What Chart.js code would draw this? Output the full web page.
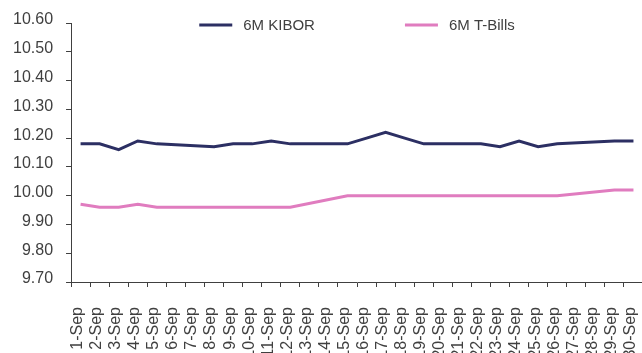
<!DOCTYPE html>
<html>
<head>
<meta charset="utf-8">
<script src="https://cdn.jsdelivr.net/npm/chart.js@4/dist/chart.umd.min.js"></script>
<style>
  html, body { margin: 0; padding: 0; overflow: hidden; background: #fff; }
  #wrap { position: absolute; left: 0; top: 0; width: 646px; height: 353px; }
</style>
</head>
<body>
<div id="wrap"><canvas id="c"></canvas></div>
<script>
// September daily rates (weekends left empty, lines bridge the gaps)
const days = [
  '1-Sep','2-Sep','3-Sep','4-Sep','5-Sep','6-Sep','7-Sep','8-Sep','9-Sep','10-Sep',
  '11-Sep','12-Sep','13-Sep','14-Sep','15-Sep','16-Sep','17-Sep','18-Sep','19-Sep','20-Sep',
  '21-Sep','22-Sep','23-Sep','24-Sep','25-Sep','26-Sep','27-Sep','28-Sep','29-Sep','30-Sep'
];
const kibor6m = [
  10.18, 10.18, 10.16, 10.19, 10.18, null, null, 10.17, 10.18, 10.18,
  10.19, 10.18, null, null, 10.18, 10.20, 10.22, 10.20, 10.18, null,
  null, 10.18, 10.17, 10.19, 10.17, 10.18, null, null, 10.19, 10.19
];
const tbills6m = [
  9.97, 9.96, 9.96, 9.97, 9.96, null, null, 9.96, 9.96, 9.96,
  9.96, 9.96, null, null, 10.00, 10.00, 10.00, 10.00, 10.00, null,
  null, 10.00, 10.00, 10.00, 10.00, 10.00, null, null, 10.02, 10.02
];
const seriesNames = ['6M KIBOR', '6M T-Bills'];
const yTicks = [9.70, 9.80, 9.90, 10.00, 10.10, 10.20, 10.30, 10.40, 10.50, 10.60];

const FONT = "'Liberation Sans', Arial, sans-serif";
const TEXT = '#404040';
const AXIS = '#404040';

// Legend drawn inside the top of the plot, centred, with a wide gap between entries
const insideLegend = {
  id: 'insideLegend',
  afterDraw(chart) {
    const ctx = chart.ctx;
    const area = chart.chartArea;
    const sample = 33, textGap = 11, itemGap = 90, y = 25;
    ctx.save();
    ctx.font = '15px ' + FONT;
    const items = chart.data.datasets.map(ds => ({
      ds, w: sample + textGap + ctx.measureText(ds.label).width
    }));
    const total = items.reduce((s, it) => s + it.w, 0) + itemGap * (items.length - 1);
    let x = (area.left + area.right) / 2 - total / 2;
    items.forEach(it => {
      ctx.strokeStyle = it.ds.borderColor;
      ctx.lineWidth = 3;
      ctx.beginPath();
      ctx.moveTo(x, y);
      ctx.lineTo(x + sample, y);
      ctx.stroke();
      ctx.fillStyle = TEXT;
      ctx.textBaseline = 'middle';
      ctx.textAlign = 'left';
      ctx.fillText(it.ds.label, x + sample + textGap, y + 1);
      x += it.w + itemGap;
    });
    ctx.restore();
  }
};

new Chart(document.getElementById('c'), {
  type: 'line',
  data: {
    labels: days,
    datasets: [
      { label: seriesNames[0], data: kibor6m, borderColor: '#2C2F63', borderWidth: 3,
        pointRadius: 0, tension: 0, spanGaps: true, fill: false },
      { label: seriesNames[1], data: tbills6m, borderColor: '#E07CBF', borderWidth: 3,
        pointRadius: 0, tension: 0, spanGaps: true, fill: false }
    ]
  },
  options: {
    responsive: true,
    maintainAspectRatio: false,
    animation: false,
    layout: { padding: { top: 23, left: 0, right: 3, bottom: 0 } },
    plugins: { legend: { display: false }, tooltip: { enabled: false } },
    scales: {
      x: {
        type: 'category',
        offset: true,
        grid: { display: true, drawOnChartArea: false, offset: true, tickLength: 5, color: AXIS, lineWidth: 1 },
        border: { display: true, color: AXIS, width: 1 },
        ticks: {
          autoSkip: false, maxRotation: 90, minRotation: 90, padding: 20, labelOffset: -3,
          color: TEXT, font: { family: FONT, size: 16 }
        },
        afterFit(scale) {
          scale.height = 71;
          scale.paddingLeft = 0;
          scale.paddingRight = 0;
        }
      },
      y: {
        min: 9.70, max: 10.60,
        afterBuildTicks(scale) { scale.ticks = yTicks.map(v => ({ value: v })); },
        grid: { display: true, drawOnChartArea: false, tickLength: 5, color: AXIS, lineWidth: 1 },
        border: { display: true, color: AXIS, width: 1 },
        ticks: {
          padding: 13, labelOffset: -3, color: TEXT, font: { family: FONT, size: 16 },
          callback: v => Number(v).toFixed(2)
        }
      }
    }
  },
  plugins: [insideLegend]
});
</script>
</body>
</html>
